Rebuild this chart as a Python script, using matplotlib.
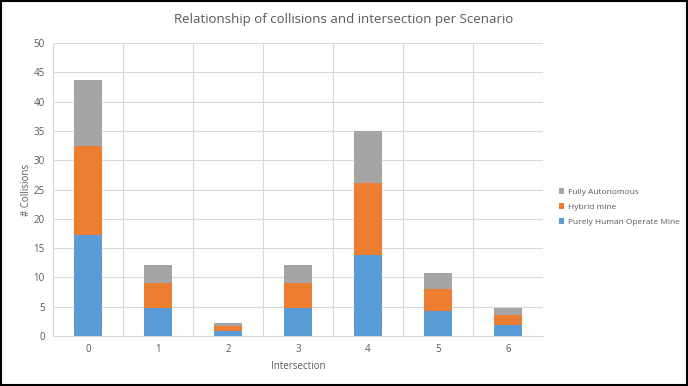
import numpy as np
import matplotlib.pyplot as plt
from matplotlib.patches import Rectangle

# ---- data ----
intersections = ["0", "1", "2", "3", "4", "5", "6"]
human = [17.2, 4.8, 0.85, 4.8, 13.8, 4.3, 1.8]
hybrid = [15.2, 4.2, 0.85, 4.2, 12.3, 3.7, 1.7]
autonomous = [11.3, 3.1, 0.6, 3.1, 8.9, 2.8, 1.2]

plt.rcParams['font.family'] = ['Open Sans', 'DejaVu Sans']
txt = '#595959'

fig = plt.figure(figsize=(6.88, 3.86), dpi=100)
ax = fig.add_axes([53 / 688, 1 - 336 / 386, 490 / 688, 293 / 386])

x = np.arange(len(intersections))
w = 0.4
b1 = np.array(human)
b2 = b1 + np.array(hybrid)
ax.bar(x, human, w, color='#5b9bd5', label='Purely Human Operate Mine', zorder=3)
ax.bar(x, hybrid, w, bottom=b1, color='#ed7d31', label='Hybrid mine', zorder=3)
ax.bar(x, autonomous, w, bottom=b2, color='#a5a5a5', label='Fully Autonomous', zorder=3)

ax.set_xlim(-0.5, len(intersections) - 0.5)
ax.set_ylim(0, 50)
ax.set_yticks(np.arange(0, 51, 5))
ax.set_xticks(x)
ax.set_xticklabels(intersections)
# vertical gridlines between categories
ax.set_xticks(np.arange(-0.5, len(intersections), 1), minor=True)
ax.grid(True, axis='y', color='#d9d9d9', lw=0.8, zorder=0)
ax.grid(True, axis='x', which='minor', color='#d9d9d9', lw=0.8, zorder=0)
ax.tick_params(which='both', length=0, labelsize=7, colors=txt, pad=6)
for s in ['top', 'right', 'left']:
    ax.spines[s].set_visible(False)
ax.spines['bottom'].set_color('#d9d9d9')

ax.set_xlabel('Intersection', fontsize=7, color=txt, labelpad=4)
ax.set_ylabel('# Collisions', fontsize=7, color=txt, labelpad=1)
fig.text(0.5, 1 - 20 / 386, 'Relationship of collisions and intersection per Scenario',
         ha='center', va='center', fontsize=9.5, color=txt)

h, l = ax.get_legend_handles_labels()
fig.legend(h[::-1], l[::-1], loc='center left', bbox_to_anchor=(551 / 688, 1 - 207 / 386),
           frameon=False, fontsize=6, labelcolor=txt, handlelength=0.7, handleheight=0.7,
           handletextpad=0.4, labelspacing=0.9)

# black frame around the picture
fig.patches.append(Rectangle((0.002, 0.003), 0.996, 0.994, transform=fig.transFigure,
                             fill=False, ec='black', lw=1.5))

fig.savefig('out.png', dpi=100)
